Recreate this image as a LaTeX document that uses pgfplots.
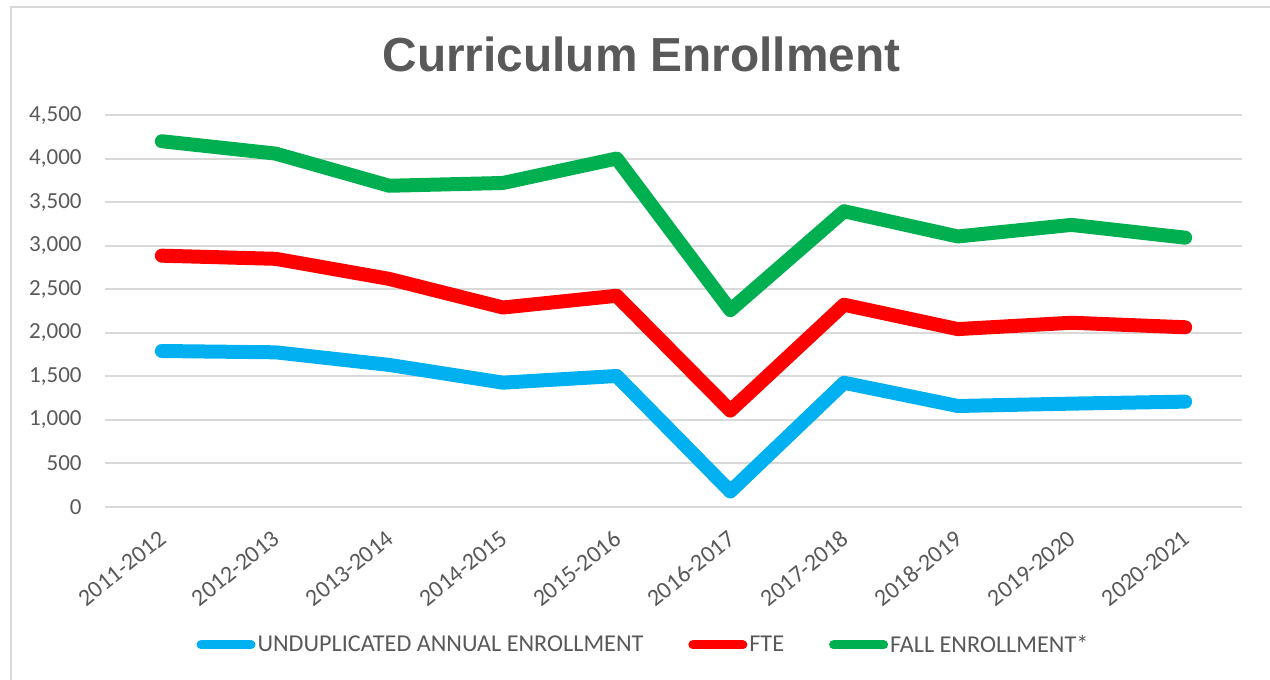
\documentclass[border=0pt]{standalone}
\usepackage{fontspec}
\setmainfont{Carlito}
\newfontfamily\arialfont{Liberation Sans}
\usepackage{pgfplots}
\pgfplotsset{compat=1.18}
\definecolor{txtgray}{HTML}{595959}
\definecolor{gridgray}{HTML}{D9D9D9}
\definecolor{cblue}{HTML}{00B0F0}
\definecolor{cred}{HTML}{FF0000}
\definecolor{cgreen}{HTML}{00B050}
\begin{document}
\begin{tikzpicture}
\useasboundingbox (0pt,0pt) rectangle (635pt,340pt);
\draw[gridgray, line width=1pt] (5.5pt,0pt) -- (5.5pt,336.5pt) -- (636pt,336.5pt);
\node[anchor=base, text=txtgray, font=\arialfont\bfseries\fontsize{23.9}{28}\selectfont] at (320.75pt,304pt) {Curriculum Enrollment};
\begin{axis}[
  at={(52.5pt,86.65pt)}, anchor=south west,
  scale only axis, width=568.5pt, height=195.7pt,
  xmin=-0.5, xmax=9.5, ymin=0, ymax=4500,
  ytick={0,500,...,4500},
  xtick={0,...,9},
  xticklabels={2011-2012,2012-2013,2013-2014,2014-2015,2015-2016,2016-2017,2017-2018,2018-2019,2019-2020,2020-2021},
  ymajorgrids, major grid style={gridgray, line width=0.9pt},
  axis line style={draw=none}, tick style={draw=none},
  scaled y ticks=false,
  /pgf/number format/.cd, 1000 sep={,}, assume math mode=true, /pgfplots/.cd,
  ticklabel style={text=txtgray, font=\fontsize{11.5}{13}\selectfont},
  yticklabel style={inner sep=0pt, anchor=east, xshift=-11.5pt},
  xticklabel style={inner sep=0pt, xshift=-2pt, yshift=-11pt, rotate=39, anchor=north east, font=\fontsize{12}{13}\selectfont},
  clip=false,
  legend columns=3,
  legend style={at={(0.4727,-0.3533)}, anchor=center, draw=none, fill=none,
    font=\fontsize{12.1}{14}\selectfont, text=txtgray,
    /tikz/every odd column/.append style={column sep=1pt},
    /tikz/every even column/.append style={column sep=22.5pt},
    nodes={inner sep=0pt}},
  legend image code/.code={\draw[#1, line width=4.5pt, line cap=round] (2.25pt,0pt) -- (27.25pt,0pt);},
  every axis plot/.append style={line width=7pt, line cap=round, line join=round, mark=none},
]
\addplot[cblue] coordinates {(0,1790) (1,1775) (2,1630) (3,1426) (4,1503) (5,175) (6,1425) (7,1158) (8,1185) (9,1208)};
\addlegendentry{UNDUPLICATED ANNUAL ENROLLMENT}
\addplot[cred] coordinates {(0,2886) (1,2850) (2,2619) (3,2290) (4,2425) (5,1105) (6,2322) (7,2042) (8,2115) (9,2063)};
\addlegendentry{FTE}
\addplot[cgreen] coordinates {(0,4202) (1,4060) (2,3690) (3,3722) (4,4003) (5,2260) (6,3397) (7,3107) (8,3240) (9,3093)};
\addlegendentry{FALL ENROLLMENT*}
\end{axis}
\end{tikzpicture}
\end{document}
